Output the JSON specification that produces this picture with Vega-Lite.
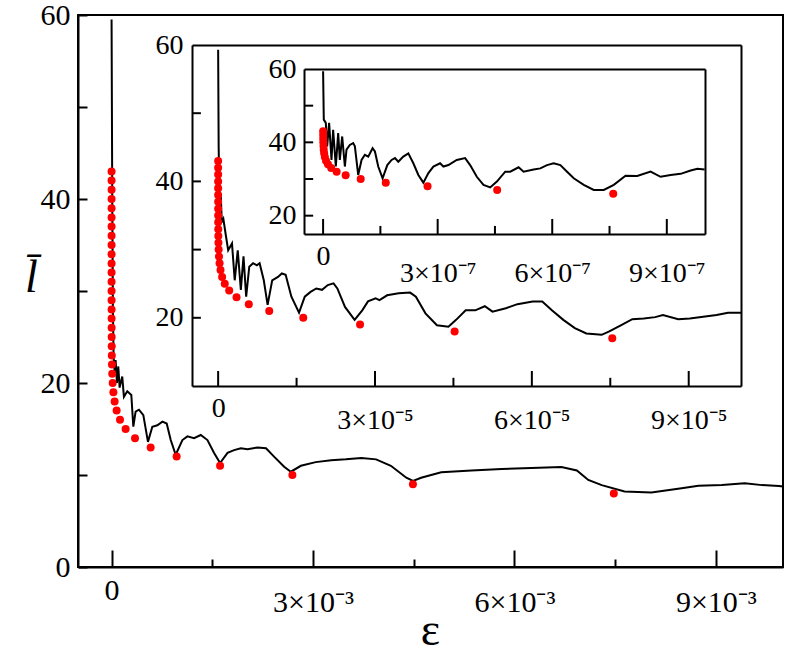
{
  "$schema": "https://vega.github.io/schema/vega-lite/v6.json",
  "width": 705,
  "height": 552,
  "autosize": "none",
  "padding": {"left": 78, "top": 15, "right": 2, "bottom": 86},
  "background": "white",
  "config": {
    "view": {"stroke": "black", "strokeWidth": 2},
    "axis": {
      "labelFont": "Liberation Serif",
      "labelColor": "black",
      "domainColor": "black",
      "tickColor": "black",
      "domainWidth": 2,
      "tickWidth": 2,
      "grid": false,
      "labelFlush": false,
      "labelOverlap": false,
      "labelBound": false
    }
  },
  "datasets": {
    "main": [
      {"eps": 0, "l": 59.5}, {"eps": 0.00001, "l": 40}, {"eps": 0.00002, "l": 28}, {"eps": 0.00003, "l": 23},
      {"eps": 0.000034, "l": 22.3}, {"eps": 0.00005, "l": 21}, {"eps": 0.00006, "l": 22.5}, {"eps": 0.00008, "l": 20},
      {"eps": 0.0001, "l": 21.8}, {"eps": 0.00012, "l": 19.5}, {"eps": 0.000159, "l": 20.7}, {"eps": 0.000184, "l": 18.5},
      {"eps": 0.000234, "l": 19.1}, {"eps": 0.000294, "l": 18.7}, {"eps": 0.000324, "l": 15.25}, {"eps": 0.000358, "l": 16.9},
      {"eps": 0.000408, "l": 17.1}, {"eps": 0.000473, "l": 16.5}, {"eps": 0.000542, "l": 13.6}, {"eps": 0.000607, "l": 15.25},
      {"eps": 0.000682, "l": 15.4}, {"eps": 0.000757, "l": 15.8}, {"eps": 0.000821, "l": 15.6}, {"eps": 0.000881, "l": 13.8},
      {"eps": 0.000955, "l": 12.2}, {"eps": 0.001055, "l": 13.8}, {"eps": 0.00113, "l": 14.2}, {"eps": 0.001228, "l": 14.0},
      {"eps": 0.001328, "l": 14.35}, {"eps": 0.001428, "l": 13.8}, {"eps": 0.001527, "l": 12.4}, {"eps": 0.001616, "l": 11.3},
      {"eps": 0.001727, "l": 12.4}, {"eps": 0.001825, "l": 12.7}, {"eps": 0.001925, "l": 12.9}, {"eps": 0.002025, "l": 12.8},
      {"eps": 0.002175, "l": 13.0}, {"eps": 0.0023, "l": 12.9}, {"eps": 0.00242, "l": 12.0}, {"eps": 0.00257, "l": 10.9},
      {"eps": 0.00267, "l": 10.36}, {"eps": 0.00282, "l": 11.0}, {"eps": 0.00304, "l": 11.4}, {"eps": 0.00327, "l": 11.6},
      {"eps": 0.00349, "l": 11.7}, {"eps": 0.00372, "l": 11.85}, {"eps": 0.00394, "l": 11.7}, {"eps": 0.00416, "l": 11.0},
      {"eps": 0.00439, "l": 9.7}, {"eps": 0.00449, "l": 9.35}, {"eps": 0.00461, "l": 9.7}, {"eps": 0.00491, "l": 10.3},
      {"eps": 0.00536, "l": 10.5}, {"eps": 0.00581, "l": 10.65}, {"eps": 0.00625, "l": 10.76}, {"eps": 0.0067, "l": 10.87},
      {"eps": 0.00693, "l": 10.5}, {"eps": 0.0071, "l": 9.46}, {"eps": 0.0073, "l": 8.9}, {"eps": 0.00764, "l": 8.2},
      {"eps": 0.00804, "l": 8.1}, {"eps": 0.00849, "l": 8.55}, {"eps": 0.00874, "l": 8.84}, {"eps": 0.00909, "l": 8.9},
      {"eps": 0.00943, "l": 9.1}, {"eps": 0.00969, "l": 8.9}, {"eps": 0.00994, "l": 8.8}, {"eps": 0.01, "l": 8.75}
    ],
    "in1": [
      {"eps": 0, "l": 59.3}, {"eps": 1e-7, "l": 45}, {"eps": 2e-7, "l": 40}, {"eps": 3e-7, "l": 37}, {"eps": 5e-7, "l": 38},
      {"eps": 7e-7, "l": 34}, {"eps": 1.0e-6, "l": 34.5}, {"eps": 1.41e-6, "l": 32.4}, {"eps": 1.92e-6, "l": 29.9},
      {"eps": 2.65e-6, "l": 30.9}, {"eps": 3.17e-6, "l": 25.5}, {"eps": 3.75e-6, "l": 29.9}, {"eps": 4.34e-6, "l": 24.1},
      {"eps": 4.85e-6, "l": 29.0}, {"eps": 5.36e-6, "l": 23.1}, {"eps": 5.95e-6, "l": 27.5}, {"eps": 6.68e-6, "l": 28.0},
      {"eps": 7.41e-6, "l": 27.7}, {"eps": 7.93e-6, "l": 28.0}, {"eps": 8.73e-6, "l": 25.5}, {"eps": 9.46e-6, "l": 21.9},
      {"eps": 1.034e-5, "l": 25.5}, {"eps": 1.144e-5, "l": 26.0}, {"eps": 1.218e-5, "l": 26.5}, {"eps": 1.291e-5, "l": 26.3},
      {"eps": 1.401e-5, "l": 23.1}, {"eps": 1.547e-5, "l": 20.75}, {"eps": 1.657e-5, "l": 23.1}, {"eps": 1.767e-5, "l": 23.8},
      {"eps": 1.877e-5, "l": 24.3}, {"eps": 1.987e-5, "l": 24.1}, {"eps": 2.097e-5, "l": 24.8}, {"eps": 2.207e-5, "l": 25.05},
      {"eps": 2.28e-5, "l": 24.3}, {"eps": 2.426e-5, "l": 21.6}, {"eps": 2.61e-5, "l": 19.7}, {"eps": 2.756e-5, "l": 21.1},
      {"eps": 2.866e-5, "l": 22.4}, {"eps": 3.012e-5, "l": 22.85}, {"eps": 3.086e-5, "l": 22.6}, {"eps": 3.232e-5, "l": 23.3},
      {"eps": 3.452e-5, "l": 23.6}, {"eps": 3.672e-5, "l": 23.7}, {"eps": 3.782e-5, "l": 23.1}, {"eps": 3.965e-5, "l": 20.65},
      {"eps": 4.185e-5, "l": 18.9}, {"eps": 4.404e-5, "l": 18.7}, {"eps": 4.551e-5, "l": 19.7}, {"eps": 4.734e-5, "l": 21.1},
      {"eps": 4.917e-5, "l": 21.1}, {"eps": 5.1e-5, "l": 21.7}, {"eps": 5.247e-5, "l": 20.9}, {"eps": 5.503e-5, "l": 21.4},
      {"eps": 5.723e-5, "l": 22.0}, {"eps": 6.016e-5, "l": 22.4}, {"eps": 6.199e-5, "l": 22.4}, {"eps": 6.383e-5, "l": 21.1},
      {"eps": 6.602e-5, "l": 19.7}, {"eps": 6.822e-5, "l": 18.5}, {"eps": 7.042e-5, "l": 17.7}, {"eps": 7.335e-5, "l": 17.5},
      {"eps": 7.481e-5, "l": 18.0}, {"eps": 7.701e-5, "l": 18.9}, {"eps": 7.921e-5, "l": 19.8}, {"eps": 8.141e-5, "l": 19.9},
      {"eps": 8.36e-5, "l": 20.1}, {"eps": 8.507e-5, "l": 20.4}, {"eps": 8.8e-5, "l": 19.8}, {"eps": 9.02e-5, "l": 19.9},
      {"eps": 9.24e-5, "l": 20.1}, {"eps": 9.533e-5, "l": 20.4}, {"eps": 9.752e-5, "l": 20.75}, {"eps": 1.0e-4, "l": 20.75}
    ],
    "in2": [
      {"eps": 0, "l": 59.4}, {"eps": 1.8e-9, "l": 46.2}, {"eps": 7.1e-9, "l": 45.3}, {"eps": 1.06e-8, "l": 38.9},
      {"eps": 1.58e-8, "l": 45.3}, {"eps": 2.2e-8, "l": 35.2}, {"eps": 2.63e-8, "l": 43.4}, {"eps": 3.33e-8, "l": 33.4},
      {"eps": 3.95e-8, "l": 42.5}, {"eps": 4.38e-8, "l": 35.2}, {"eps": 5.0e-8, "l": 41.6}, {"eps": 5.7e-8, "l": 33.4},
      {"eps": 6.13e-8, "l": 38.0}, {"eps": 7.0e-8, "l": 39.3}, {"eps": 7.88e-8, "l": 39.8}, {"eps": 8.32e-8, "l": 38.9},
      {"eps": 9.19e-8, "l": 31.1}, {"eps": 1.007e-7, "l": 35.2}, {"eps": 1.094e-7, "l": 36.6}, {"eps": 1.182e-7, "l": 36.1},
      {"eps": 1.296e-7, "l": 38.4}, {"eps": 1.357e-7, "l": 37.5}, {"eps": 1.444e-7, "l": 33.4}, {"eps": 1.558e-7, "l": 30.2},
      {"eps": 1.681e-7, "l": 33.8}, {"eps": 1.794e-7, "l": 35.2}, {"eps": 1.882e-7, "l": 35.7}, {"eps": 1.969e-7, "l": 34.7},
      {"eps": 2.10e-7, "l": 36.1}, {"eps": 2.232e-7, "l": 37.0}, {"eps": 2.363e-7, "l": 34.3}, {"eps": 2.494e-7, "l": 31.1},
      {"eps": 2.625e-7, "l": 29.0}, {"eps": 2.757e-7, "l": 31.6}, {"eps": 2.888e-7, "l": 33.4}, {"eps": 3.063e-7, "l": 34.3},
      {"eps": 3.15e-7, "l": 33.4}, {"eps": 3.282e-7, "l": 33.8}, {"eps": 3.5e-7, "l": 35.2}, {"eps": 3.719e-7, "l": 35.7},
      {"eps": 3.85e-7, "l": 33.8}, {"eps": 4.025e-7, "l": 30.6}, {"eps": 4.2e-7, "l": 28.4}, {"eps": 4.375e-7, "l": 27.7},
      {"eps": 4.55e-7, "l": 29.3}, {"eps": 4.769e-7, "l": 32.0}, {"eps": 4.9e-7, "l": 32.0}, {"eps": 5.119e-7, "l": 33.2},
      {"eps": 5.25e-7, "l": 32.0}, {"eps": 5.513e-7, "l": 32.6}, {"eps": 5.688e-7, "l": 32.9}, {"eps": 5.863e-7, "l": 33.8},
      {"eps": 6.037e-7, "l": 34.3}, {"eps": 6.213e-7, "l": 33.8}, {"eps": 6.388e-7, "l": 32.0}, {"eps": 6.563e-7, "l": 30.2},
      {"eps": 6.825e-7, "l": 28.4}, {"eps": 7.087e-7, "l": 27.0}, {"eps": 7.35e-7, "l": 27.0}, {"eps": 7.612e-7, "l": 28.4},
      {"eps": 7.919e-7, "l": 30.9}, {"eps": 8.225e-7, "l": 30.8}, {"eps": 8.575e-7, "l": 32.0}, {"eps": 8.837e-7, "l": 30.6},
      {"eps": 9.1e-7, "l": 31.1}, {"eps": 9.362e-7, "l": 31.4}, {"eps": 9.625e-7, "l": 32.3}, {"eps": 9.8e-7, "l": 32.8},
      {"eps": 9.99e-7, "l": 32.6}
    ],
    "dots": [
      {"l": 8, "eps": 7.48e-3}, {"l": 9, "eps": 4.488e-3}, {"l": 10, "eps": 2.693e-3}, {"l": 11, "eps": 1.616e-3},
      {"l": 12, "eps": 9.69e-4}, {"l": 13, "eps": 5.82e-4}, {"l": 14, "eps": 3.49e-4}, {"l": 15, "eps": 2.094e-4},
      {"l": 16, "eps": 1.256e-4}, {"l": 17, "eps": 7.538e-5}, {"l": 18, "eps": 4.523e-5}, {"l": 19, "eps": 2.714e-5},
      {"l": 20, "eps": 1.628e-5}, {"l": 21, "eps": 9.77e-6}, {"l": 22, "eps": 5.862e-6}, {"l": 23, "eps": 3.517e-6},
      {"l": 24, "eps": 2.11e-6}, {"l": 25, "eps": 1.266e-6}, {"l": 26, "eps": 7.597e-7}, {"l": 27, "eps": 4.558e-7},
      {"l": 28, "eps": 2.735e-7}, {"l": 29, "eps": 1.641e-7}, {"l": 30, "eps": 9.845e-8}, {"l": 31, "eps": 5.907e-8},
      {"l": 32, "eps": 3.544e-8}, {"l": 33, "eps": 2.127e-8}, {"l": 34, "eps": 1.276e-8}, {"l": 35, "eps": 7.656e-9},
      {"l": 36, "eps": 4.593e-9}, {"l": 37, "eps": 2.756e-9}, {"l": 38, "eps": 1.654e-9}, {"l": 39, "eps": 9.92e-10},
      {"l": 40, "eps": 5.95e-10}, {"l": 41, "eps": 3.57e-10}, {"l": 42, "eps": 2.14e-10}, {"l": 43, "eps": 1.29e-10}
    ],
    "in1_xmajor": [{"v": 0}, {"v": 3e-5}, {"v": 6e-5}, {"v": 9e-5}],
    "in1_xminor": [{"v": 1.5e-5}, {"v": 4.5e-5}, {"v": 7.5e-5}],
    "in1_y": [{"v": 20}, {"v": 30}, {"v": 40}, {"v": 50}],
    "in2_xmajor": [{"v": 0}, {"v": 3e-7}, {"v": 6e-7}, {"v": 9e-7}],
    "in2_xminor": [{"v": 1.5e-7}, {"v": 4.5e-7}, {"v": 7.5e-7}],
    "in2_y": [{"v": 20}, {"v": 30}, {"v": 40}, {"v": 50}]
  },
  "resolve": {
    "scale": {"x": "independent", "y": "independent"},
    "axis": {"x": "independent", "y": "independent"}
  },
  "layer": [
    {
      "data": {"name": "main"},
      "mark": {"type": "line", "color": "black", "strokeWidth": 2},
      "encoding": {
        "x": {
          "field": "eps", "type": "quantitative",
          "scale": {"domain": [-0.0005, 0.01], "nice": false, "zero": false},
          "axis": {
            "orient": "bottom",
            "values": [0, 0.003, 0.006, 0.009],
            "labelExpr": "datum.value == 0 ? '0' : round(datum.value*1000) + '×10⁻³'",
            "labelFontSize": 30,
            "labelBaseline": "top",
            "labelPadding": {"condition": {"test": "datum.value == 0", "value": 8}, "value": 20},
            "ticks": false,
            "title": "ε",
            "titleFont": "Liberation Serif",
            "titleFontSize": 46,
            "titleFontWeight": "normal",
            "titleBaseline": "alphabetic",
            "titleY": 77,
            "titleX": 352
          }
        },
        "y": {
          "field": "l", "type": "quantitative",
          "scale": {"domain": [0, 60], "nice": false, "zero": false},
          "axis": {
            "orient": "left",
            "values": [0, 20, 40, 60],
            "labelFontSize": 30,
            "labelBaseline": "middle",
            "labelPadding": 8,
            "ticks": false,
            "title": "l̄",
            "titleFont": "Liberation Serif",
            "titleFontStyle": "italic",
            "titleFontWeight": "normal",
            "titleFontSize": 46,
            "titleAngle": 0,
            "titleAlign": "center",
            "titleBaseline": "middle",
            "titleX": -47,
            "titleY": 262
          }
        }
      }
    },
    {
      "data": {"name": "dots"},
      "mark": {"type": "circle", "color": "#ff0000", "opacity": 1, "size": 64},
      "encoding": {
        "x": {
          "field": "eps", "type": "quantitative",
          "scale": {"domain": [-0.0005, 0.01], "nice": false, "zero": false},
          "axis": {
            "orient": "top", "offset": -552, "domain": false, "labels": false, "title": null,
            "values": [0, 0.0015, 0.003, 0.0045, 0.006, 0.0075, 0.009],
            "tickSize": {"condition": {"test": "round(datum.value*2000) % 6 != 0", "value": 8}, "value": 17}
          }
        },
        "y": {
          "field": "l", "type": "quantitative",
          "scale": {"domain": [0, 60], "nice": false, "zero": false},
          "axis": {
            "orient": "right", "offset": -705, "domain": false, "labels": false, "title": null,
            "values": [0, 10, 20, 30, 40, 50, 60],
            "tickSize": 9
          }
        }
      }
    },
    {
      "resolve": {"axis": {"x": "independent", "y": "independent"}},
      "layer": [
        {
          "data": {"name": "in1"},
          "mark": {"type": "line", "color": "black", "strokeWidth": 2},
          "encoding": {
            "x": {
              "field": "eps", "type": "quantitative",
              "scale": {"domain": [-5e-6, 1e-4], "range": [114, 663], "nice": false, "zero": false},
              "axis": {
                "orient": "bottom",
                "offset": -181,
                "values": [0, 3e-5, 6e-5, 9e-5],
                "labelExpr": "datum.value == 0 ? '0' : round(datum.value*1e5) + '×10⁻⁵'",
                "labelFontSize": 28,
                "labelBaseline": "top",
                "labelPadding": {"condition": {"test": "datum.value == 0", "value": 8}, "value": 20},
                "ticks": false,
                "title": null
              }
            },
            "y": {
              "field": "l", "type": "quantitative",
              "scale": {"domain": [10, 60], "range": [371, 30], "nice": false, "zero": false},
              "axis": {
                "orient": "left",
                "offset": -114,
                "values": [20, 40, 60],
                "labelFontSize": 28,
                "labelBaseline": "middle",
                "labelPadding": 9,
                "ticks": false,
                "title": null
              }
            }
          }
        },
        {
          "data": {"name": "dots"},
          "transform": [{"filter": "datum.eps <= 1e-4"}],
          "mark": {"type": "circle", "color": "#ff0000", "opacity": 1, "size": 64},
          "encoding": {
            "x": {"field": "eps", "type": "quantitative", "axis": {"orient": "top", "offset": -30, "ticks": false, "labels": false, "title": null}},
            "y": {"field": "l", "type": "quantitative", "axis": {"orient": "right", "offset": -42, "ticks": false, "labels": false, "title": null}}
          }
        },
        {
          "data": {"name": "in1_xmajor"},
          "mark": {"type": "rule", "color": "black", "strokeWidth": 2},
          "encoding": {
            "x": {"field": "v", "type": "quantitative", "axis": null},
            "y": {"datum": 10, "type": "quantitative", "axis": null},
            "y2": {"datum": 12.2}
          }
        },
        {
          "data": {"name": "in1_xminor"},
          "mark": {"type": "rule", "color": "black", "strokeWidth": 2},
          "encoding": {
            "x": {"field": "v", "type": "quantitative", "axis": null},
            "y": {"datum": 10, "type": "quantitative", "axis": null},
            "y2": {"datum": 11.2}
          }
        },
        {
          "data": {"name": "in1_y"},
          "mark": {"type": "rule", "color": "black", "strokeWidth": 2},
          "encoding": {
            "x": {"datum": -5e-6, "type": "quantitative", "axis": null},
            "x2": {"datum": -3.3e-6},
            "y": {"field": "v", "type": "quantitative", "axis": null}
          }
        }
      ]
    },
    {
      "resolve": {"axis": {"x": "independent", "y": "independent"}},
      "layer": [
        {
          "data": {"name": "in2"},
          "mark": {"type": "line", "color": "black", "strokeWidth": 2},
          "encoding": {
            "x": {
              "field": "eps", "type": "quantitative",
              "scale": {"domain": [-5e-8, 1e-6], "range": [226, 627], "nice": false, "zero": false},
              "axis": {
                "orient": "bottom",
                "offset": -333,
                "values": [0, 3e-7, 6e-7, 9e-7],
                "labelExpr": "datum.value == 0 ? '0' : round(datum.value*1e7) + '×10⁻⁷'",
                "labelFontSize": 28,
                "labelBaseline": "top",
                "labelPadding": {"condition": {"test": "datum.value == 0", "value": 8}, "value": 25},
                "ticks": false,
                "title": null
              }
            },
            "y": {
              "field": "l", "type": "quantitative",
              "scale": {"domain": [15, 60], "range": [219, 54], "nice": false, "zero": false},
              "axis": {
                "orient": "left",
                "offset": -226,
                "values": [20, 40, 60],
                "labelFontSize": 28,
                "labelBaseline": "middle",
                "labelPadding": 8,
                "ticks": false,
                "title": null
              }
            }
          }
        },
        {
          "data": {"name": "dots"},
          "transform": [{"filter": "datum.eps <= 1e-6"}],
          "mark": {"type": "circle", "color": "#ff0000", "opacity": 1, "size": 64},
          "encoding": {
            "x": {"field": "eps", "type": "quantitative", "axis": {"orient": "top", "offset": -54, "ticks": false, "labels": false, "title": null}},
            "y": {"field": "l", "type": "quantitative", "axis": {"orient": "right", "offset": -78, "ticks": false, "labels": false, "title": null}}
          }
        },
        {
          "data": {"name": "in2_xmajor"},
          "mark": {"type": "rule", "color": "black", "strokeWidth": 2},
          "encoding": {
            "x": {"field": "v", "type": "quantitative", "axis": null},
            "y": {"datum": 15, "type": "quantitative", "axis": null},
            "y2": {"datum": 19.1}
          }
        },
        {
          "data": {"name": "in2_xminor"},
          "mark": {"type": "rule", "color": "black", "strokeWidth": 2},
          "encoding": {
            "x": {"field": "v", "type": "quantitative", "axis": null},
            "y": {"datum": 15, "type": "quantitative", "axis": null},
            "y2": {"datum": 17.2}
          }
        },
        {
          "data": {"name": "in2_y"},
          "mark": {"type": "rule", "color": "black", "strokeWidth": 2},
          "encoding": {
            "x": {"datum": -5e-8, "type": "quantitative", "axis": null},
            "x2": {"datum": -2.6e-8},
            "y": {"field": "v", "type": "quantitative", "axis": null}
          }
        }
      ]
    }
  ]
}
